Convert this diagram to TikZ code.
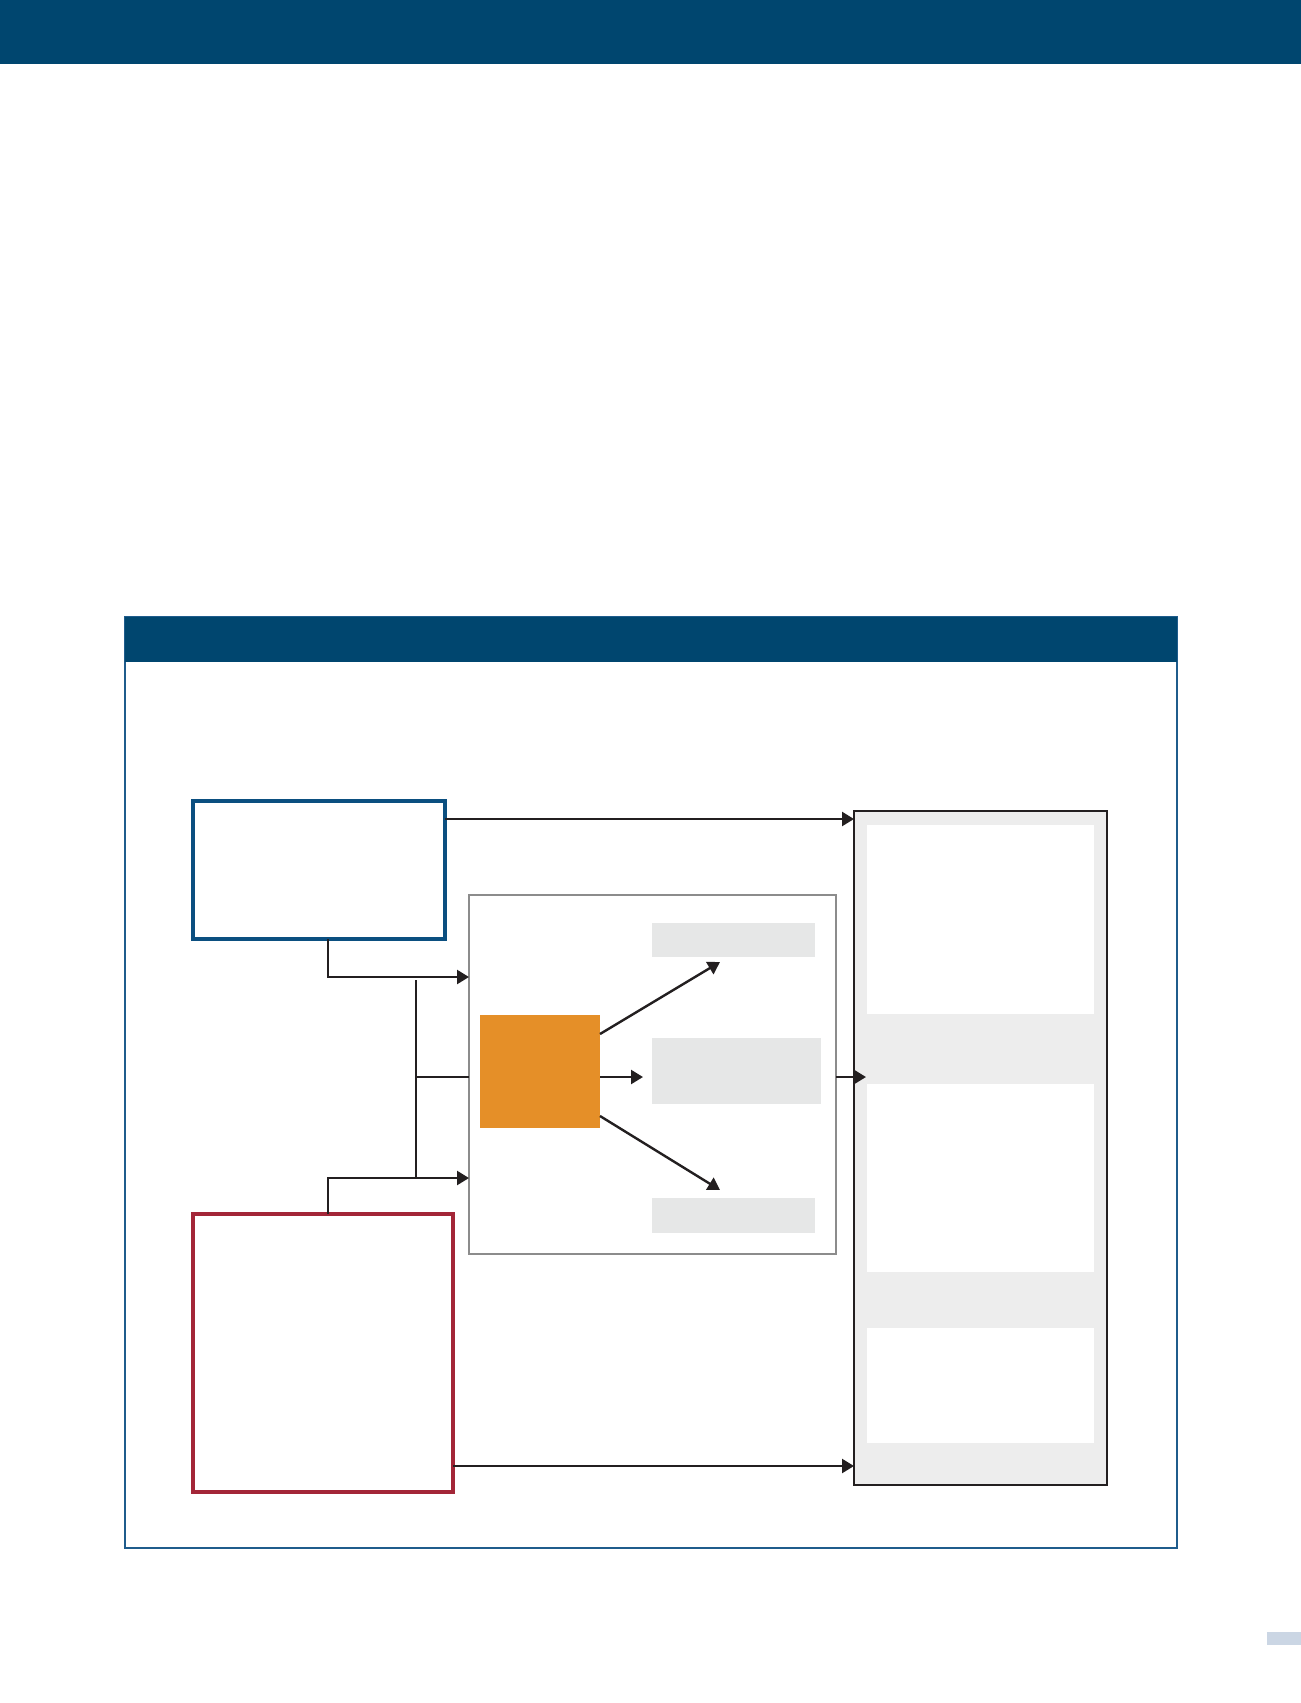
\documentclass[tikz,border=0pt]{standalone}
\usepackage{xcolor}
\usepackage{tikz}
\usetikzlibrary{arrows.meta,positioning,calc}

\definecolor{navy}{HTML}{00466F}
\definecolor{framebl}{HTML}{1F5C8C}
\definecolor{boxbl}{HTML}{0B4F80}
\definecolor{boxred}{HTML}{A32638}
\definecolor{orng}{HTML}{E58F28}
\definecolor{tagg}{HTML}{E6E7E7}
\definecolor{panel}{HTML}{EDEDED}
\definecolor{ink}{HTML}{231F20}
\definecolor{pagebl}{HTML}{CBD6E4}

\begin{document}
\begin{tikzpicture}[x=0.5pt,y=-0.5pt,>={Triangle[length=6pt,width=7pt]},
  src/.style={draw,line width=2pt,fill=white,inner sep=0pt,outer sep=0pt},
  hub/.style={draw=black!45,line width=1.1pt,fill=white,inner sep=0pt,outer sep=0pt},
  core/.style={fill=orng,inner sep=0pt,outer sep=0pt},
  tag/.style={fill=tagg,inner sep=0pt,outer sep=0pt},
  sink/.style={draw=ink,line width=1.2pt,fill=panel,inner sep=0pt,outer sep=0pt},
  slot/.style={fill=white,inner sep=0pt,outer sep=0pt,minimum width=113.5pt},
  msg/.style={->,draw=ink,line width=1.2pt},
  wire/.style={draw=ink,line width=1.2pt}]
  \useasboundingbox (0,0) rectangle (1301,1703);
  % page bars
  \fill[navy] (0,0) rectangle (1301,64);
  \draw[framebl,line width=0.6pt,fill=white] (125,617) rectangle (1177,1548);
  \fill[navy] (125,617) rectangle (1177,662);
  \fill[pagebl] (1267,1632) rectangle (1301,1645);

  % boxes
  \node[src,draw=boxbl,minimum width=126pt,minimum height=69pt] (blue) at (319,870) {};
  \node[src,draw=boxred,minimum width=130pt,minimum height=139pt] (red) at (323,1353) {};
  \node[hub,minimum width=183.5pt,minimum height=179.5pt] (mid) at (652.5,1074.5) {};
  \node[core,minimum width=60pt,minimum height=56.5pt] (orange) at (540,1071.5) {};
  \node[tag,minimum width=81.5pt,minimum height=17pt] (gtop) at (733.5,940) {};
  \node[tag,minimum width=84.5pt,minimum height=33pt] (gmid) at (736.5,1071) {};
  \node[tag,minimum width=81.5pt,minimum height=17.5pt] (gbot) at (733.5,1215.5) {};
  \node[sink,minimum width=126.5pt,minimum height=337pt] (right) at (980.5,1148) {};
  \node[slot,minimum height=94.5pt] (s1) at (980.5,919.5) {};
  \node[slot,minimum height=94pt] (s2) at (980.5,1178) {};
  \node[slot,minimum height=57.5pt] (s3) at (980.5,1385.5) {};

  % connectors
  \coordinate (inA) at (469,977);
  \coordinate (inB) at (469,1178);
  \coordinate (bus) at (416,1077);
  \coordinate (outA) at (445,819);
  \coordinate (outB) at (453,1466);
  \coordinate (tipup) at (720,962);
  \coordinate (tipdn) at (720,1190);
  \draw[msg] (outA) -- (right.west |- outA);
  \draw[msg] (outB) -- (right.west |- outB);
  \draw[msg] ([xshift=4.5pt]blue.south) |- (inA);
  \draw[msg] ([xshift=2.5pt]red.north) |- (inB);
  \draw[wire] ([yshift=-1.5pt]bus |- inA) -- (bus |- inB);
  \draw[wire] (bus) -- (mid.west |- bus);
  \draw[msg] ([yshift=-9.5pt]orange.north east) -- (tipup);
  \draw[msg] ([yshift=6pt]orange.south east) -- (tipdn);
  \draw[msg] (orange.east |- bus) -- ([xshift=-4.5pt]gmid.west |- bus);
  \draw[msg] (mid.east |- bus) -- ([xshift=6pt]right.west |- bus);
\end{tikzpicture}
\end{document}
